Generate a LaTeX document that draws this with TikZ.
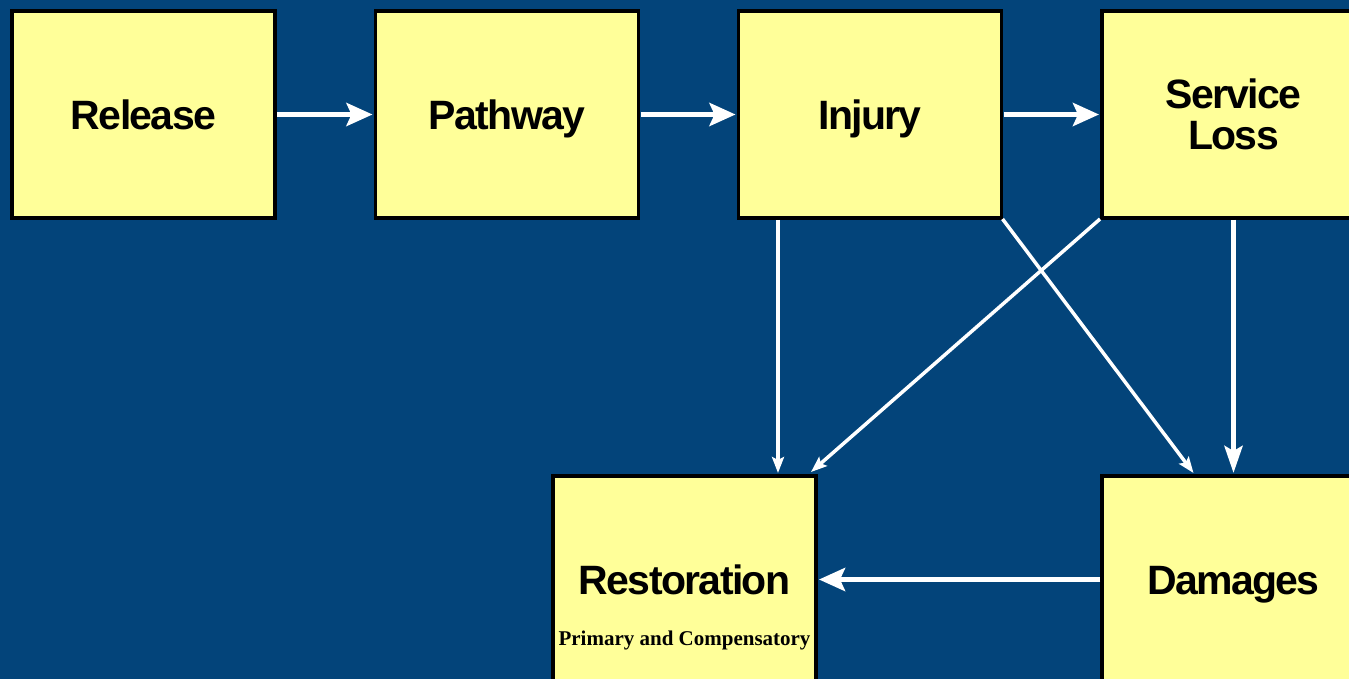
\documentclass[tikz,border=0pt]{standalone}
\usepackage{fontspec}
\setmainfont{Liberation Sans}
\newfontfamily\subserif{Liberation Serif}
\usetikzlibrary{arrows.meta}
\definecolor{bgblue}{HTML}{03447A}
\definecolor{boxyellow}{HTML}{FFFF99}

\begin{document}
\begin{tikzpicture}[x=1pt,y=-1pt,
  box/.style={draw=black, line width=3.5pt, fill=boxyellow,
    minimum width=263pt, minimum height=207pt, inner sep=0pt, outer sep=0pt,
    font=\fontsize{41}{41}\selectfont\bfseries\addfontfeature{LetterSpace=-4},
    align=center},
  oneline/.style={text height=29.5pt, text depth=0pt},
  subtext/.style={inner sep=0pt, font=\subserif\fontsize{21}{24}\selectfont\bfseries},
  flow/.style={draw=white, line width=5pt,
    -{Stealth[length=26pt,width=23pt,inset=5pt]}},
  bigdown/.style={draw=white, line width=5pt,
    -{Stealth[length=27pt,width=18pt,inset=5pt]}},
  link/.style={draw=white, line width=3.5pt,
    -{Stealth[length=16pt,width=12pt,inset=3pt]}},
]
% canvas and clipping frame
\path[use as bounding box] (0,0) rectangle (1349,679);
\fill[bgblue] (0,0) rectangle (1349,679);
\clip (0,0) rectangle (1349,679);

% boxes
\node[box,oneline] (rel)  at (143.5,114.5)  {Release};
\node[box,oneline] (path) at (507,114.5)    {Pathway};
\node[box,oneline] (inj)  at (870,114.5)    {Injury};
\node[box] (svc)  at (1233.5,114.5) {Service\\Loss};
\node[box,oneline] (rest) at (684.5,579.5)  {Restoration};
\node[subtext] (restsub) at ([yshift=-61pt]rest.center) {Primary and Compensatory};
\node[box,oneline] (dmg)  at (1233.5,579.5) {Damages};

% top chain
\draw[flow] (rel.east) ++(2pt,0) -- ([xshift=-3pt]path.west);
\draw[flow] (path.east) ++(2pt,0) -- ([xshift=-3pt]inj.west);
\draw[flow] (inj.east) ++(2pt,0) -- ([xshift=-3pt]svc.west);

% links down to restoration and damages
\draw[link] ([xshift=-92pt,yshift=-2pt]inj.south) -- ([xshift=-92pt,yshift=3pt]inj.south |- rest.north);
\draw[link] ([xshift=1pt,yshift=-1pt]inj.south east) -- ([xshift=-40pt,yshift=3pt]dmg.north);
\draw[link] ([xshift=-2pt,yshift=-1pt]svc.south west) -- ([xshift=-5pt,yshift=4pt]rest.north east);
\draw[bigdown] ([yshift=-2pt]svc.south) -- ([yshift=3pt]dmg.north);

% damages back to restoration
\draw[flow] ([xshift=-2pt]dmg.west) -- ([xshift=3pt]rest.east);
\end{tikzpicture}
\end{document}
